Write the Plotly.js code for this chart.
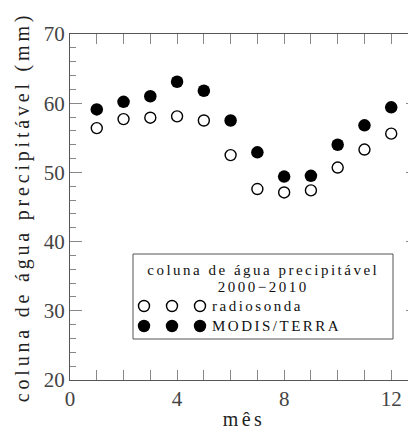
<!DOCTYPE html>
<html>
<head>
<meta charset="utf-8">
<script src="https://cdn.plot.ly/plotly-3.0.1.min.js"></script>
<style>
  html, body { margin: 0; padding: 0; background: #fff; overflow: hidden; }
  #chart { width: 420px; height: 430px; }
  /* wide letter spacing, in the manner of stroke-font plot labels */
  #chart .g-ytitle text { letter-spacing: 3.8px; }
  #chart .g-xtitle text { letter-spacing: 3.5px; }
  #chart .annotation-text { letter-spacing: 2.5px; }
</style>
</head>
<body>
<div id="chart"></div>
<script>
// Monthly mean precipitable water column, 2000-2010
const months = [1, 2, 3, 4, 5, 6, 7, 8, 9, 10, 11, 12];
const radiosonda = [56.4, 57.7, 57.9, 58.1, 57.5, 52.5, 47.6, 47.1, 47.4, 50.7, 53.3, 55.6];
const modisTerra = [59.1, 60.2, 61.0, 63.1, 61.8, 57.5, 52.9, 49.4, 49.5, 54.0, 56.8, 59.4];

const xTickVals = [0, 4, 8, 12];
const yTickVals = [20, 30, 40, 50, 60, 70];

const legendTitle = ['coluna de água precipitável', '2000−2010'];
const seriesNames = ['radiosonda', 'MODIS/TERRA'];

const FONT = 'Liberation Serif';
const W = 420, H = 430;
const M = { l: 70, r: 2, t: 34, b: 50 };
const PW = W - M.l - M.r, PH = H - M.t - M.b;

// pixel position -> paper fraction of the plotting area
const px = x => (x - M.l) / PW;
const py = y => (H - M.b - y) / PH;

const traces = [
  {
    x: months, y: radiosonda, type: 'scatter', mode: 'markers', name: seriesNames[0],
    marker: { symbol: 'circle', size: 11, color: '#fff', line: { color: '#000', width: 1.4 } },
    showlegend: false, hoverinfo: 'skip'
  },
  {
    x: months, y: modisTerra, type: 'scatter', mode: 'markers', name: seriesNames[1],
    marker: { symbol: 'circle', size: 12.5, color: '#000', line: { width: 0 } },
    showlegend: false, hoverinfo: 'skip'
  }
];

// hand-built legend box with three repeated symbols per row
const box = { x0: 133, x1: 393, y0: 254, y1: 339 };
const rows = [
  { y: 306, open: true, label: seriesNames[0] },
  { y: 326, open: false, label: seriesNames[1] }
];
const symX = [144, 172, 200];

const shapes = [{
  type: 'rect', xref: 'paper', yref: 'paper',
  x0: px(box.x0), x1: px(box.x1), y0: py(box.y1), y1: py(box.y0),
  line: { color: '#555', width: 1 }, fillcolor: '#fff', layer: 'above'
}];
const annotations = [
  { text: legendTitle[0], x: px((box.x0 + box.x1) / 2), y: py(270) },
  { text: legendTitle[1], x: px((box.x0 + box.x1) / 2), y: py(287) }
].map(a => Object.assign(a, {
  xref: 'paper', yref: 'paper', showarrow: false, xanchor: 'center', yanchor: 'middle',
  font: { family: FONT, size: 15, color: '#111' }
}));

rows.forEach(r => {
  symX.forEach(sx => {
    const d = r.open ? 5.5 : 6.2;
    shapes.push({
      type: 'circle', xref: 'paper', yref: 'paper',
      xsizemode: 'pixel', ysizemode: 'pixel',
      xanchor: px(sx), yanchor: py(r.y),
      x0: -d, x1: d, y0: -d, y1: d,
      fillcolor: r.open ? '#fff' : '#000',
      line: { color: '#000', width: r.open ? 1.4 : 0 }, layer: 'above'
    });
  });
  annotations.push({
    text: r.label, xref: 'paper', yref: 'paper', x: px(210), y: py(r.y),
    xanchor: 'left', yanchor: 'middle', align: 'left', showarrow: false,
    font: { family: FONT, size: 15, color: '#111' }
  });
});

const axisCommon = {
  showline: true, linecolor: '#555', linewidth: 1, mirror: 'ticks',
  ticks: 'inside', tickcolor: '#888', tickwidth: 1,
  showgrid: false, zeroline: false,
  tickfont: { family: FONT, size: 21, color: '#444' }
};

const layout = {
  width: W, height: H, margin: M,
  paper_bgcolor: '#fff', plot_bgcolor: '#fff',
  showlegend: false,
  xaxis: Object.assign({}, axisCommon, {
    range: [0, 13], tickmode: 'array', tickvals: xTickVals, ticklen: 10,
    minor: { dtick: 1, tick0: 0, ticks: 'inside', ticklen: 10, tickcolor: '#888', tickwidth: 1 },
    title: { text: 'mês', font: { family: FONT, size: 20, color: '#222' }, standoff: 4 }
  }),
  yaxis: Object.assign({}, axisCommon, {
    range: [20, 70], tickmode: 'array', tickvals: yTickVals, ticklen: 12,
    minor: { dtick: 2, tick0: 20, ticks: 'inside', ticklen: 6, tickcolor: '#888', tickwidth: 1 },
    title: { text: 'coluna de água precipitável (mm)', font: { family: FONT, size: 20, color: '#222' }, standoff: 8 }
  }),
  shapes: shapes,
  annotations: annotations
};

Plotly.newPlot('chart', traces, layout, { staticPlot: true, displayModeBar: false });
</script>
</body>
</html>
